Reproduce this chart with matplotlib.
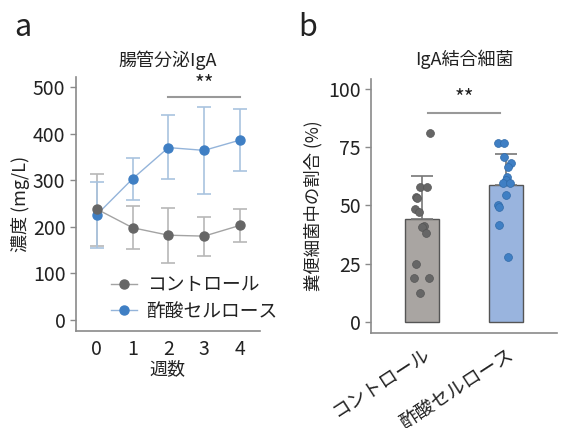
import matplotlib
matplotlib.use('Agg')
import matplotlib.pyplot as plt
import numpy as np

plt.rcParams['font.family'] = ['Noto Sans CJK JP', 'DejaVu Sans']

# panel a: IgA concentration by week
weeks = [0, 1, 2, 3, 4]
ctrl_mean = [238, 198, 182, 180, 203]
ctrl_up = [314, 244, 241, 221, 238]
ctrl_lo = [159, 153, 122, 137, 168]
ca_mean = [226, 303, 370, 364, 386]
ca_up = [297, 348, 439, 458, 453]
ca_lo = [154, 258, 302, 271, 320]

# panel b: IgA-bound bacteria (%)
groups = ['コントロール', '酢酸セルロース']
bar_means = [44.2, 58.8]
bar_err = [18.5, 13.5]
ctrl_pts = [81.1, 58.1, 58.1, 53.7, 53.1, 48.4, 47.3, 41.2, 40.6, 38.0, 25.0, 18.7, 18.7, 12.2]
ca_pts = [76.8, 76.8, 71.0, 68.1, 66.7, 62.4, 61.0, 59.6, 59.6, 54.5, 50.2, 49.2, 41.6, 28.0]
ctrl_jit = [0.10, -0.02, 0.06, -0.07, -0.06, -0.08, -0.03, 0.02, 0.0, 0.05, -0.07, -0.09, 0.08, -0.02]
ca_jit = [-0.10, -0.02, -0.02, 0.06, 0.02, 0.01, 0.0, -0.03, 0.05, 0.0, -0.10, -0.08, -0.08, 0.02]

gray = '#666666'
blue = '#3f7fc4'
txt = '#222222'
spine_c = '#8a8a8a'

fig = plt.figure(figsize=(5.7, 4.28), dpi=100)

# ---- a ----
ax = fig.add_axes([0.133, 0.2266, 0.323, 0.593])
cm = np.array(ctrl_mean); am = np.array(ca_mean)
ax.errorbar(weeks, ctrl_mean, yerr=[cm - np.array(ctrl_lo), np.array(ctrl_up) - cm],
            fmt='none', ecolor='#b8b8b8', elinewidth=1.2, capsize=5, capthick=1.2, zorder=1)
ax.errorbar(weeks, ca_mean, yerr=[am - np.array(ca_lo), np.array(ca_up) - am],
            fmt='none', ecolor='#a9c3df', elinewidth=1.2, capsize=5, capthick=1.2, zorder=1)
ax.plot(weeks, ctrl_mean, '-', color='#a3a3a3', lw=1, zorder=2)
ax.plot(weeks, ca_mean, '-', color='#94b4da', lw=1, zorder=2)
ax.plot(weeks, ca_mean, 'o', color=blue, ms=6.5, zorder=3)
ax.plot(weeks, ctrl_mean, 'o', color=gray, ms=6.5, zorder=4)
h1, = ax.plot([], [], 'o-', color='#a3a3a3', ms=6.5, lw=1,
              markerfacecolor=gray, markeredgecolor=gray)
h2, = ax.plot([], [], 'o-', color='#94b4da', ms=6.5, lw=1,
              markerfacecolor=blue, markeredgecolor=blue)
ax.legend([h1, h2], ['コントロール', '酢酸セルロース'], loc='center left',
          bbox_to_anchor=(0.14, 0.13), frameon=False, fontsize=13.5,
          handlelength=1.4, handletextpad=0.5, labelspacing=0.3, borderpad=0,
          labelcolor=txt)
ax.plot([2, 4], [478, 478], color='#999999', lw=1.5)
ax.text(3, 480, '**', ha='center', va='bottom', fontsize=15, color=txt)
ax.set_xlim(-0.587, 4.56)
ax.set_ylim(-23.6, 521)
ax.set_xticks(weeks)
ax.set_yticks([0, 100, 200, 300, 400, 500])
ax.set_xlabel('週数', fontsize=13, color=txt, labelpad=0)
ax.set_ylabel('濃度 (mg/L)', fontsize=13, color=txt, labelpad=2)
ax.set_title('腸管分泌IgA', fontsize=13, color=txt, pad=8)
ax.tick_params(axis='y', labelsize=14, colors=spine_c, labelcolor=txt, length=4, width=1)
ax.tick_params(axis='x', labelsize=14, length=0, labelcolor=txt, pad=6)
for s in ['top', 'right']:
    ax.spines[s].set_visible(False)
for s in ['left', 'bottom']:
    ax.spines[s].set_color(spine_c)
    ax.spines[s].set_linewidth(1.2)

# ---- b ----
bx = fig.add_axes([0.651, 0.2227, 0.326, 0.592])
xpos = [0, 1]
bx.bar(xpos, bar_means, width=0.4, color=['#a9a5a2', '#99b4de'], edgecolor='#555555',
       linewidth=1, zorder=1)
bx.errorbar(xpos, bar_means, yerr=[[0, 0], bar_err], fmt='none', ecolor='#777777',
            elinewidth=1.2, capsize=8, capthick=1.2, zorder=2)
bx.scatter(np.array(ctrl_jit), ctrl_pts, s=32, color=gray, edgecolors='#555555',
           linewidths=0.5, zorder=3)
bx.scatter(1 + np.array(ca_jit), ca_pts, s=32, color=blue, edgecolors='#2f6aa8',
           linewidths=0.5, zorder=3)
bx.plot([0.07, 0.93], [89.7, 89.7], color='#999999', lw=1.5)
bx.text(0.5, 91, '**', ha='center', va='bottom', fontsize=15, color=txt)
bx.set_xlim(-0.607, 1.607)
bx.set_ylim(-4.73, 104.3)
bx.set_yticks([0, 25, 50, 75, 100])
bx.set_xticks(xpos)
bx.set_xticklabels(groups, rotation=33, ha='right', rotation_mode='anchor', fontsize=13.5,
                   color=txt)
bx.set_ylabel('糞便細菌中の割合 (%)', fontsize=12.5, color=txt, labelpad=4)
bx.set_title('IgA結合細菌', fontsize=13, color=txt, pad=10)
bx.tick_params(axis='y', labelsize=14, colors=spine_c, labelcolor=txt, length=4, width=1)
bx.tick_params(axis='x', length=0, pad=8)
for s in ['top', 'right']:
    bx.spines[s].set_visible(False)
for s in ['left', 'bottom']:
    bx.spines[s].set_color(spine_c)
    bx.spines[s].set_linewidth(1.2)

fig.text(0.025, 0.935, 'a', fontsize=22, color=txt, va='center')
fig.text(0.523, 0.935, 'b', fontsize=22, color=txt, va='center')

fig.savefig('out.png', dpi=100, facecolor='white')
